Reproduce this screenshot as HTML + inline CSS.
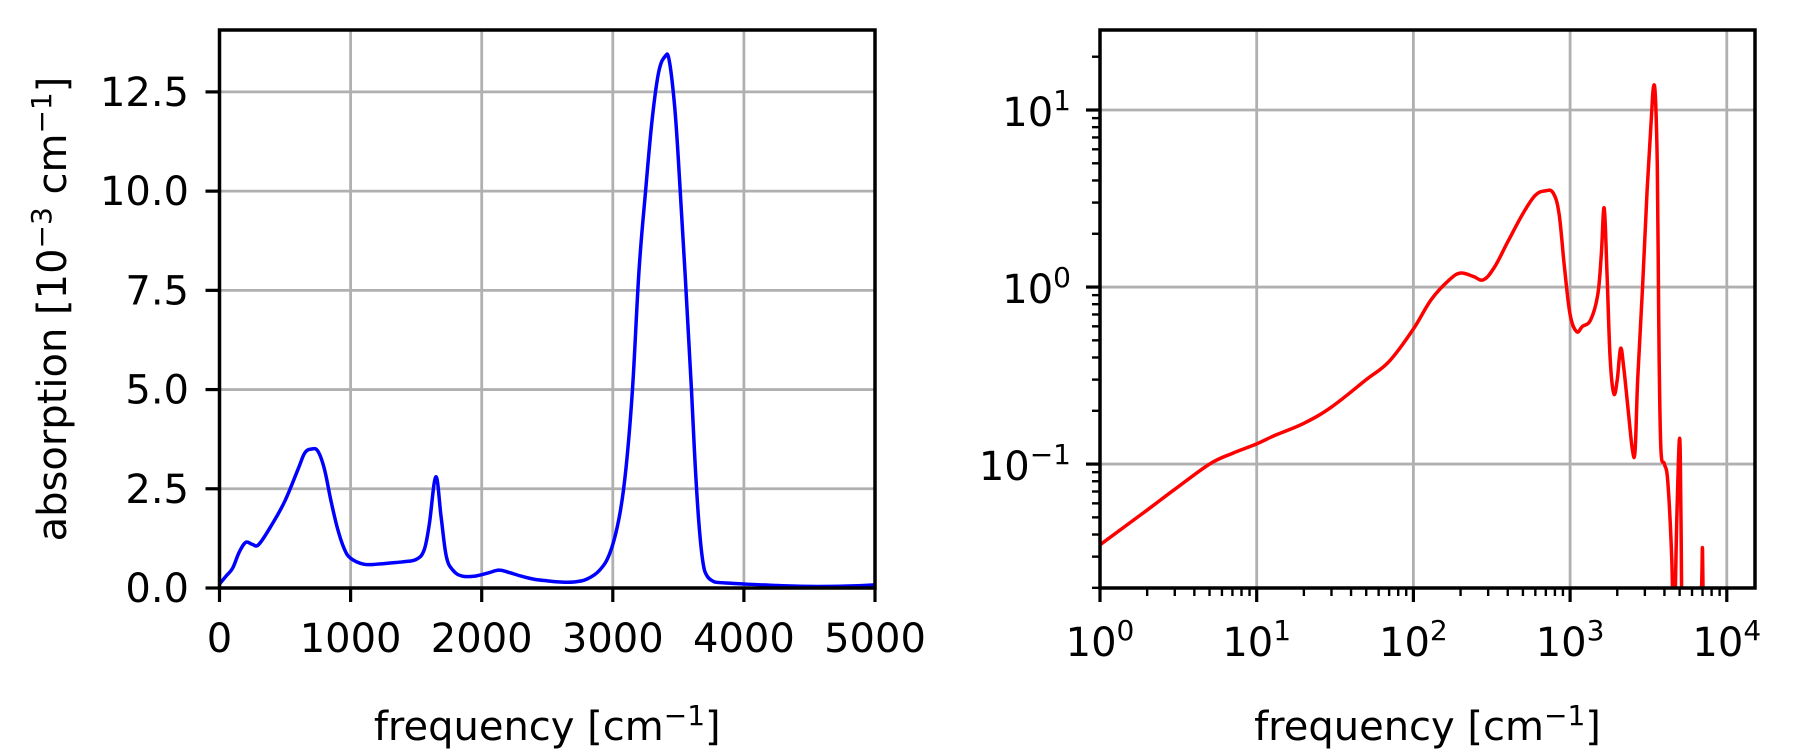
<!DOCTYPE html>
<html><head><meta charset="utf-8"><style>
html,body{margin:0;padding:0;background:#fff;}
svg{display:block;font-family:"DejaVu Sans","Liberation Sans",sans-serif;}
</style></head><body>
<svg id="fig" width="1793" height="756" viewBox="0 0 1793 756" xmlns="http://www.w3.org/2000/svg"></svg>
<script>
const linFreq=[0,50,100,150,200,250,300,400,500,600,650,700,750,800,850,900,950,1000,1100,1200,1300,1400,1500,1560,1600,1650,1690,1730,1780,1850,1950,2050,2130,2200,2300,2400,2500,2600,2700,2800,2900,2980,3050,3100,3150,3200,3250,3300,3350,3400,3430,3470,3500,3550,3600,3630,3660,3690,3720,3760,3800,3900,4000,4200,4500,4800,5000];
const linAbs=[0.1,0.3,0.5,0.9,1.15,1.1,1.1,1.6,2.2,3.0,3.4,3.5,3.45,3.0,2.2,1.5,1.0,0.75,0.6,0.6,0.63,0.66,0.72,0.95,1.6,2.8,1.8,0.8,0.45,0.3,0.3,0.38,0.45,0.4,0.3,0.22,0.18,0.15,0.15,0.22,0.45,0.9,1.8,3.0,5.0,8.0,10.0,11.8,13.0,13.4,13.3,12.2,10.8,8.0,5.0,3.0,1.5,0.6,0.3,0.18,0.14,0.12,0.1,0.07,0.04,0.05,0.08];
const logFreq=[1,2,3,5,7,10,13,20,30,50,70,100,130,170,200,240,280,330,400,500,600,700,780,850,920,1000,1100,1200,1350,1500,1580,1650,1720,1800,1900,2000,2100,2200,2350,2500,2600,2700,2900,3100,3300,3400,3500,3600,3650,3700,3800,4000,4200,4450,4600,4800,5000,5100,5200,5400,6000,6600,6900,7000,7100];
const logAbs=[0.035,0.055,0.072,0.1,0.115,0.13,0.145,0.17,0.21,0.3,0.38,0.58,0.85,1.1,1.2,1.15,1.1,1.3,1.8,2.6,3.3,3.5,3.4,2.6,1.3,0.7,0.56,0.6,0.65,0.9,1.5,2.8,1.2,0.4,0.25,0.3,0.45,0.35,0.2,0.12,0.12,0.3,1.0,3.5,9.0,13.4,12.0,5.0,1.5,0.4,0.12,0.1,0.08,0.03,0.01,0.05,0.14,0.05,0.01,0.01,0.01,0.01,0.02,0.033,0.01];
const linXTicks=[0,1000,2000,3000,4000,5000];
const linYTicks=[0,2.5,5,7.5,10,12.5];
const linYLabels=["0.0","2.5","5.0","7.5","10.0","12.5"];
const logXTicks=[0,1,2,3,4];
const logYTicks=[-1,0,1];

const NS="http://www.w3.org/2000/svg";
const svg=document.getElementById('fig');
function mk(tag,attrs,parent){const e=document.createElementNS(NS,tag);for(const k in attrs)e.setAttribute(k,attrs[k]);(parent||svg).appendChild(e);return e;}
function smooth(pts){let d='M'+pts[0][0]+','+pts[0][1];
 for(let i=0;i<pts.length-1;i++){const p0=pts[Math.max(0,i-1)],p1=pts[i],p2=pts[i+1],p3=pts[Math.min(pts.length-1,i+2)];const t=0.18;
  d+=' C'+(p1[0]+(p2[0]-p0[0])*t)+','+(p1[1]+(p2[1]-p0[1])*t)+' '+(p2[0]-(p3[0]-p1[0])*t)+','+(p2[1]-(p3[1]-p1[1])*t)+' '+p2[0]+','+p2[1];}
 return d;}

const FS=40, SS=28, TL=14;
const L={x0:219.5,x1:875,y0:588,y1:30,xmin:0,xmax:5000,ymin:0,ymax:14.06};
const lx=v=>L.x0+(v-L.xmin)/(L.xmax-L.xmin)*(L.x1-L.x0);
const ly=v=>L.y0-(v-L.ymin)/(L.ymax-L.ymin)*(L.y0-L.y1);
const R={x0:1100,x1:1755,y0:588,y1:30,lmin:0,lmax:4.18,ylmin:-1.70,ylmax:1.452};
const rx=v=>R.x0+(Math.log10(v)-R.lmin)/(R.lmax-R.lmin)*(R.x1-R.x0);
const ry=v=>R.y0-(Math.log10(v)-R.ylmin)/(R.ylmax-R.ylmin)*(R.y0-R.y1);
const rxe=e=>R.x0+(e-R.lmin)/(R.lmax-R.lmin)*(R.x1-R.x0);
const rye=e=>R.y0-(e-R.ylmin)/(R.ylmax-R.ylmin)*(R.y0-R.y1);

const gL=mk('g',{});
const gR=mk('g',{});

linXTicks.forEach(t=>{const x=lx(t);
 const g=mk('line',{x1:x,x2:x,y1:L.y1,y2:L.y0,stroke:'#b0b0b0','stroke-width':2.8},gL);
 mk('line',{x1:x,x2:x,y1:L.y0,y2:L.y0+TL,stroke:'#000','stroke-width':3.2},gL);
 const tx=mk('text',{x:x,y:652,'font-size':FS,'text-anchor':'middle'},gL);tx.textContent=t;});
linYTicks.forEach((t,i)=>{const y=ly(t);
 const g=mk('line',{x1:L.x0,x2:L.x1,y1:y,y2:y,stroke:'#b0b0b0','stroke-width':2.8},gL);
 mk('line',{x1:L.x0-TL,x2:L.x0,y1:y,y2:y,stroke:'#000','stroke-width':3.2},gL);
 const tx=mk('text',{x:189,y:y+14,'font-size':FS,'text-anchor':'end'},gL);tx.textContent=linYLabels[i];});
const pl=mk('path',{d:smooth(linFreq.map((f,i)=>[lx(f),ly(linAbs[i])])),fill:'none',stroke:'#0000ff','stroke-width':3.5,'stroke-linejoin':'round'},gL);

const fL=mk('rect',{x:L.x0,y:L.y1,width:L.x1-L.x0,height:L.y0-L.y1,fill:'none',stroke:'#000','stroke-width':3.5},gL);
const xl=mk('text',{x:(L.x0+L.x1)/2,y:740,'font-size':FS,'text-anchor':'middle'},gL);xl.innerHTML='frequency [cm<tspan dy="-15" font-size="'+SS+'">−1</tspan><tspan dy="15">]</tspan>';
const yl=mk('text',{x:0,y:0,'font-size':FS,'text-anchor':'middle',transform:`translate(66,${(L.y0+L.y1)/2}) rotate(-90)`},gL);yl.innerHTML='absorption [10<tspan dy="-15" font-size="'+SS+'">−3</tspan><tspan dy="15"> cm</tspan><tspan dy="-15" font-size="'+SS+'">−1</tspan><tspan dy="15">]</tspan>';

logXTicks.forEach(e=>{const x=rxe(e);
 const g=mk('line',{x1:x,x2:x,y1:R.y1,y2:R.y0,stroke:'#b0b0b0','stroke-width':2.8},gR);
 mk('line',{x1:x,x2:x,y1:R.y0,y2:R.y0+TL,stroke:'#000','stroke-width':3.2},gR);
 const tx=mk('text',{x:x,y:656,'font-size':FS,'text-anchor':'middle'},gR);tx.innerHTML='10<tspan dy="-16" font-size="'+SS+'">'+e+'</tspan>';
 for(let m=2;m<10;m++){const xm=rxe(e+Math.log10(m));if(xm<R.x1)mk('line',{x1:xm,x2:xm,y1:R.y0,y2:R.y0+8,stroke:'#000','stroke-width':2.4},gR);}});
logYTicks.forEach(e=>{const y=rye(e);
 const g=mk('line',{x1:R.x0,x2:R.x1,y1:y,y2:y,stroke:'#b0b0b0','stroke-width':2.8},gR);
 mk('line',{x1:R.x0-TL,x2:R.x0,y1:y,y2:y,stroke:'#000','stroke-width':3.2},gR);
 const tx=mk('text',{x:1071,y:y+16,'font-size':FS,'text-anchor':'end'},gR);tx.innerHTML='10<tspan dy="-16" font-size="'+SS+'">'+(e<0?'−1':e)+'</tspan>';});
for(let e=-2;e<=1;e++)for(let m=2;m<10;m++){const v=e+Math.log10(m);if(v>R.ylmin&&v<R.ylmax){const y=rye(v);mk('line',{x1:R.x0-8,x2:R.x0,y1:y,y2:y,stroke:'#000','stroke-width':2.4},gR);}}
const clip=mk('clipPath',{id:'rc'},gR);mk('rect',{x:R.x0,y:R.y1,width:R.x1-R.x0,height:R.y0-R.y1},clip);
const pr=mk('path',{d:smooth(logFreq.map((f,i)=>[rx(f),ry(logAbs[i])])),fill:'none',stroke:'#ff0000','stroke-width':3.5,'stroke-linejoin':'round','clip-path':'url(#rc)'},gR);

const fR=mk('rect',{x:R.x0,y:R.y1,width:R.x1-R.x0,height:R.y0-R.y1,fill:'none',stroke:'#000','stroke-width':3.5},gR);
const xr=mk('text',{x:(R.x0+R.x1)/2,y:740,'font-size':FS,'text-anchor':'middle'},gR);xr.innerHTML='frequency [cm<tspan dy="-15" font-size="'+SS+'">−1</tspan><tspan dy="15">]</tspan>';
</script>
</body></html>
